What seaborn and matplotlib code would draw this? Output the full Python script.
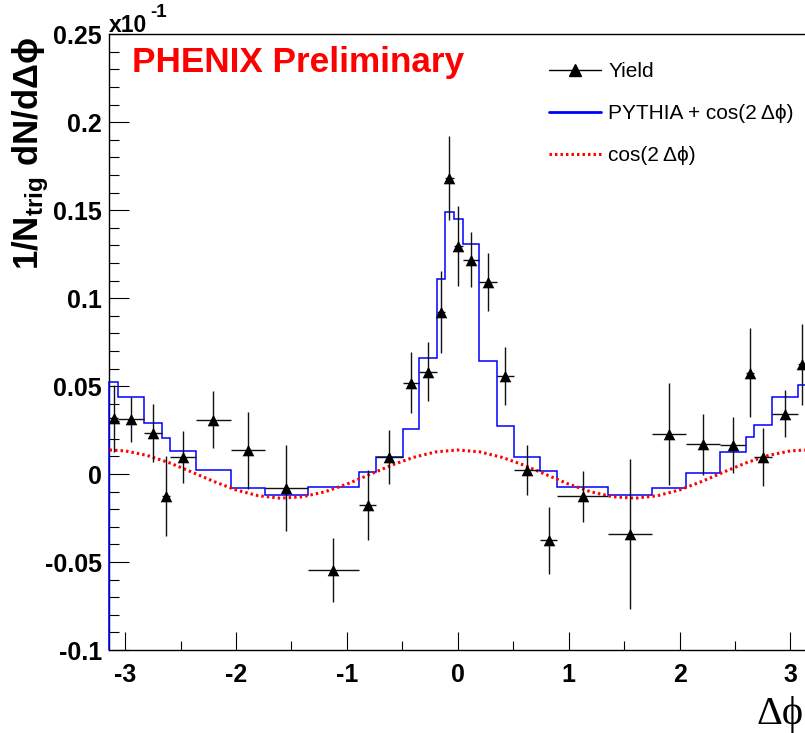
import numpy as np
import matplotlib
matplotlib.use("Agg")
import matplotlib.pyplot as plt
import seaborn as sns
from matplotlib.lines import Line2D
from matplotlib.ticker import MultipleLocator, FixedLocator, FixedFormatter

# ---------------- data ----------------
bin_edges = [-3.1416, -3.0618, -2.8273, -2.6704, -2.5956, -2.3611, -2.0482,
             -1.7390, -1.3539, -0.8886, -0.7381, -0.4973, -0.3476, -0.1907,
             -0.1159, -0.0347, 0.0437, 0.1934, 0.3503, 0.5063, 0.7407,
             0.8968, 1.3566, 1.7480, 2.0573, 2.3684, 2.6010, 2.6750,
             2.8355, 3.0645, 3.1416]

yield_values = [0.0316, 0.0312, 0.0233, -0.0125, 0.0096, 0.0310, 0.0136,
                -0.0079, -0.0546, -0.0176, 0.0098, 0.0520, 0.0583, 0.0923,
                0.1683, 0.1298, 0.1218, 0.1092, 0.0556, 0.0024, -0.0377,
                -0.0127, -0.0343, 0.0228, 0.0169, 0.0165, 0.0577, 0.0096,
                0.0343, 0.0623]
yield_errors = [0.0190, 0.0128, 0.0163, 0.0227, 0.0149, 0.0164, 0.0218,
                0.0243, 0.0180, 0.0200, 0.0152, 0.0172, 0.0166, 0.0233,
                0.0239, 0.0227, 0.0156, 0.0163, 0.0164, 0.0144, 0.0191,
                0.0144, 0.0426, 0.0291, 0.0175, 0.0157, 0.0251, 0.0164,
                0.0134, 0.0230]

pythia_values = [0.0525, 0.0436, 0.0288, 0.0206, 0.0131, 0.0023, -0.0080,
                 -0.0118, -0.0074, 0.0013, 0.0098, 0.0254, 0.0658, 0.1107,
                 0.1491, 0.1448, 0.1306, 0.0644, 0.0273, 0.0095, 0.0019,
                 -0.0072, -0.0119, -0.0078, 0.0007, 0.0127, 0.0212, 0.0280,
                 0.0436, 0.0504]

cos_x = [-3.14, -3.0, -2.8, -2.6, -2.4, -2.2, -2.0, -1.8, -1.6, -1.4, -1.2,
         -1.0, -0.8, -0.6, -0.4, -0.2, 0.0, 0.2, 0.4, 0.6, 0.8, 1.0, 1.2,
         1.4, 1.6, 1.8, 2.0, 2.2, 2.4, 2.6, 2.8, 3.0, 3.14]
cos_values = [0.0137, 0.0132, 0.0106, 0.0064, 0.0012, -0.0042, -0.0090,
              -0.0123, -0.0137, -0.0129, -0.0101, -0.0057, -0.0004, 0.0050,
              0.0095, 0.0126, 0.0137, 0.0126, 0.0095, 0.0050, -0.0004,
              -0.0057, -0.0101, -0.0129, -0.0137, -0.0123, -0.0090, -0.0042,
              0.0012, 0.0064, 0.0106, 0.0132, 0.0137]

xtick_values = [-3, -2, -1, 0, 1, 2, 3]
xtick_labels = ["-3", "-2", "-1", "0", "1", "2", "3"]
ytick_values = [-0.1, -0.05, 0.0, 0.05, 0.1, 0.15, 0.2, 0.25]
ytick_labels = ["-0.1", "-0.05", "0", "0.05", "0.1", "0.15", "0.2", "0.25"]

legend_labels = ["Yield", "PYTHIA + cos(2\u2009\u0394\u03d5)", "cos(2\u2009\u0394\u03d5)"]

# ---------------- style ----------------
sns.set_theme(style="white")
plt.rcParams["font.family"] = ["Liberation Sans", "DejaVu Sans"]
plt.rcParams.update({
    "axes.unicode_minus": False,
    "mathtext.fontset": "custom",
    "mathtext.rm": "Liberation Sans",
    "mathtext.bf": "Liberation Sans:bold",
    "mathtext.it": "Liberation Sans:italic",
    "mathtext.sf": "Liberation Sans",
    "axes.edgecolor": "black",
    "axes.linewidth": 1.0,
})

W, H = 805, 733
fig = plt.figure(figsize=(W / 100, H / 100), dpi=100)
fig.patch.set_facecolor("white")
ax = fig.add_axes([109.4 / W, 1 - 650 / H, (806.2 - 109.4) / W, (650 - 34.3) / H])
ax.set_facecolor("white")

edges = np.array(bin_edges)
centers = 0.5 * (edges[:-1] + edges[1:])
half_w = 0.5 * np.diff(edges)

# PYTHIA + cos histogram (drawn over the left frame line, as in the original)
ax.stairs(pythia_values, edges, baseline=-0.1, color="#0000ff", lw=1.1,
          zorder=2.6, clip_on=False)

# cos(2 dphi) curve
sns.lineplot(x=cos_x, y=cos_values, ax=ax, color="#ff0000", lw=2.2,
             linestyle=(0, (0.8, 1.0)), zorder=3, sort=False)

# Yield points with error bars
ax.errorbar(centers, yield_values, xerr=half_w, yerr=yield_errors, fmt="none",
            ecolor="#111111", elinewidth=1.0, capsize=0, zorder=4)
sns.scatterplot(x=centers, y=yield_values, ax=ax, marker="^", s=70,
                color="black", edgecolor="black", linewidth=0, zorder=5)

# axes ranges & ticks
ax.set_xlim(-3.1416, 3.1416)
ax.set_ylim(-0.1, 0.25)
ax.xaxis.set_major_locator(FixedLocator(xtick_values))
ax.xaxis.set_major_formatter(FixedFormatter(xtick_labels))
ax.xaxis.set_minor_locator(MultipleLocator(0.5))
ax.yaxis.set_major_locator(FixedLocator(ytick_values))
ax.yaxis.set_major_formatter(FixedFormatter(ytick_labels))
ax.yaxis.set_minor_locator(MultipleLocator(0.01))
ax.tick_params(which="both", direction="in", bottom=True, left=True,
               top=False, right=False, color="black")
ax.tick_params(axis="x", which="major", length=13, width=0.8, pad=9)
ax.tick_params(axis="x", which="minor", length=6.5, width=0.8)
ax.tick_params(axis="y", which="major", length=14.4, width=0.8, pad=5.5)
ax.tick_params(axis="y", which="minor", length=7.2, width=0.8)
for lab in ax.get_xticklabels() + ax.get_yticklabels():
    lab.set_fontweight("bold")
    lab.set_fontsize(18)
    lab.set_color("black")
for s in ax.spines.values():
    s.set_visible(True)
    s.set_color("black")
ax.set_xlabel("")
ax.set_ylabel("")

# legend
handles = [
    Line2D([], [], color="black", lw=1.0, marker="^", markersize=8),
    Line2D([], [], color="#0000ff", lw=2.0),
    Line2D([], [], color="#ff0000", lw=2.2, linestyle=(0, (0.8, 1.0))),
]
leg = ax.legend(handles, legend_labels, loc="upper left",
                bbox_to_anchor=(549 / W, 1 - 62 / H), bbox_transform=fig.transFigure,
                frameon=False, fontsize=15, handlelength=2.5, handletextpad=0.35,
                labelspacing=1.1, borderpad=0, borderaxespad=0, numpoints=1)
for t in leg.get_texts():
    t.set_color("black")

# texts
fig.text(132 / W, 1 - 71.7 / H, "PHENIX Preliminary", color="#ff0000",
         fontsize=25.3, fontweight="bold", ha="left", va="baseline")
fig.text(109 / W, 1 - 31.7 / H, "x10", color="black",
         fontsize=16.5, fontweight="bold", ha="left", va="baseline")
fig.text(150 / W, 1 - 16.7 / H, "-1", color="black",
         fontsize=13.5, fontweight="bold", ha="left", va="baseline")
fig.text(31 / W, 1 - 37 / H, "1/N$_{\\mathbf{trig}}$ dN/d\u0394\u03d5", rotation=90,
         fontsize=25, fontweight="bold", ha="center", va="top", color="black")
fig.text(756 / W, 1 - 724 / H, "\u0394\u03d5", fontsize=29, ha="left", va="baseline",
         color="black", family=["Liberation Serif", "DejaVu Serif"])

fig.savefig("out.png", dpi=100, facecolor="white")
